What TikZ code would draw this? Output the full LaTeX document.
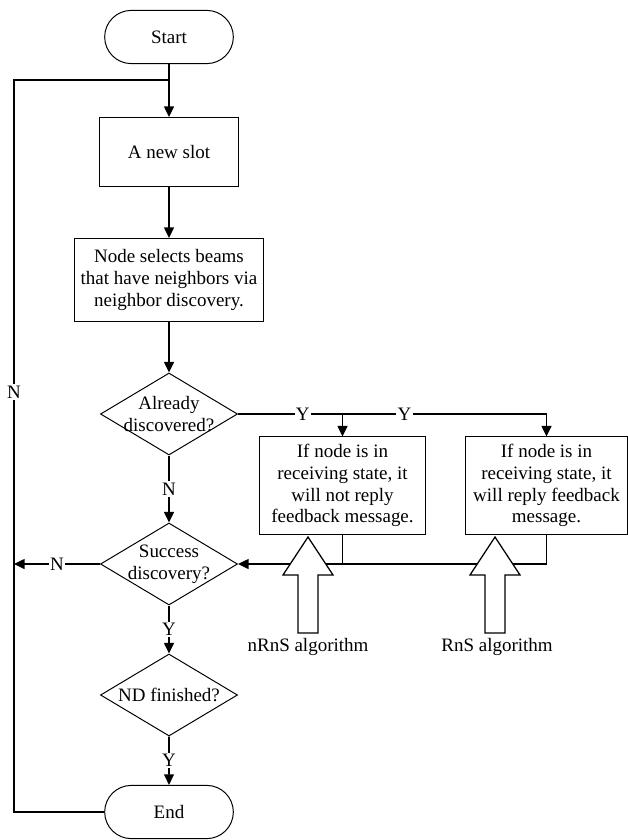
\documentclass[tikz,border=0pt]{standalone}
\usepackage{fontspec}
\setmainfont{Liberation Serif}
\usepackage{tikz}
\usetikzlibrary{arrows.meta,shapes,positioning}
\tikzstyle{arrow} = [line width=1.1pt,-{Triangle[length=7.5pt,width=7pt]}]
\tikzstyle{line} = [line width=1.1pt]
\tikzstyle{terminal} = [rounded rectangle, draw, line width=0.7pt, minimum width=3.45cm, minimum height=1.33cm]
\tikzstyle{process} = [rectangle, draw, line width=0.7pt, align=center, inner sep=2pt]
\tikzstyle{decision} = [diamond, draw, line width=0.7pt, inner sep=0pt, minimum width=3.425cm, minimum height=2.05cm]
\tikzstyle{lbl} = [fill=white, inner sep=1pt]
\tikzstyle{hollow} = [line width=0.9pt, fill=white, line join=miter]

\begin{document}
\begin{tikzpicture}[x=0.025cm, y=-0.025cm, font=\fontsize{13.5pt}{15.5pt}\selectfont]
    \useasboundingbox (0,0) rectangle (628,840);

    % Main column
    \node[terminal] (start) at (169,37) {Start};
    \node[process, minimum width=3.45cm, minimum height=1.725cm] (slot) at (169,152) {A new slot};
    \node[process, minimum width=4.725cm, minimum height=2.075cm] (select) at (169,280) {Node selects beams\\that have neighbors via\\neighbor discovery.};
    \node[decision, label={[align=center]center:Already\\discovered?}] (ad) at (169,414) {};
    \node[decision, label={[align=center]center:Success\\discovery?}] (sd) at (169,564) {};
    \node[decision, label={center:ND finished?}] (nd) at (169,695) {};
    \node[terminal] (end) at (169,812) {End};

    % Feedback boxes
    \node[process, minimum width=4.125cm, minimum height=2.425cm] (nrns) at (342.5,485.5) {If node is in\\receiving state, it\\will not reply\\feedback message.};
    \node[process, minimum width=4.025cm, minimum height=2.425cm] (rns) at (546.5,485.5) {If node is in\\receiving state, it\\will reply feedback\\message.};

    % Loop points
    \coordinate (join) at (169,80);
    \coordinate (loopL) at (14,80);
    \coordinate (nL) at (14,564);
    \coordinate (y1) at (342.5,414);
    \coordinate (y2) at (546.5,414);

    % Arrows
    \draw[arrow] (start) -- (slot);
    \draw[arrow] (slot) -- (select);
    \draw[arrow] (select) -- (ad);
    \draw[arrow] (ad) -- node[lbl] {N} (sd);
    \draw[arrow] (sd) -- node[lbl] {Y} (nd);
    \draw[arrow] (nd) -- node[lbl] {Y} (end);
    \draw[arrow] (sd.west) -- node[lbl] {N} (nL);
    \draw[line] (end.west) -| (loopL) -- (join);
    \node[lbl] (nleft) at (14,392) {N};

    \draw[line] (ad.east) -- node[lbl, pos=0.21] {Y} node[lbl, pos=0.54] {Y} (y2);
    \draw[arrow] (y1) -- (nrns);
    \draw[arrow] (y2) -- (rns);
    \draw[arrow] (rns.south) |- (sd.east);
    \draw[line] (nrns.south) -- (nrns.south |- sd.east);

    % Algorithm arrows
    \foreach \ax in {308,495} {
        \draw[hollow] (\ax,537) -- (\ax+25,575) -- (\ax+10,575) -- (\ax+10,633)
            -- (\ax-10,633) -- (\ax-10,575) -- (\ax-25,575) -- cycle;
    }
    \node (nrnsalg) at (308,647) {nRnS algorithm};
    \node (rnsalg) at (497,647) {RnS algorithm};
\end{tikzpicture}
\end{document}
